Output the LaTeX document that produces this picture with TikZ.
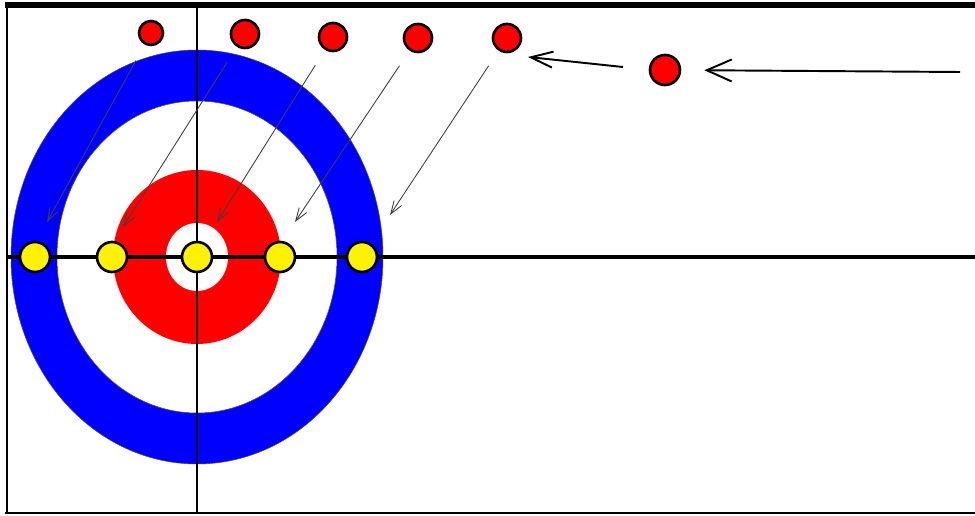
\documentclass[tikz,border=0pt]{standalone}
\usepackage{tikz}
\usetikzlibrary{arrows.meta}

\begin{document}
\begin{tikzpicture}[
  x=0.02cm, y=-0.02cm,
  stone/.style={draw, line width=1.5pt, circle, fill=red, minimum size=5.6mm, inner sep=0pt},
  spot/.style={draw, line width=1.5pt, circle, fill=yellow, minimum size=6mm, inner sep=0pt},
  shot/.style={-{Straight Barb[length=2.6mm, width=1.8mm]}, line width=0.5pt, black!75, shorten <=0.36cm},
  push/.style={-{Straight Barb[length=5mm, width=4.4mm]}, line width=1.1pt},
  rink/.style={line width=1pt}]
\useasboundingbox (0,0) rectangle (975,516);
% house
\fill[blue, draw=black!70, line width=0.3pt] (197,257) ellipse [x radius=186, y radius=207];
\fill[white, draw=black!70, line width=0.3pt] (197,257) ellipse [x radius=140, y radius=156];
\fill[red] (197,257) ellipse [x radius=84, y radius=87];
\fill[white] (197,257) ellipse [x radius=31, y radius=34];
% lines of the sheet
\draw[rink, line width=2pt] (8,257) -- (975,257);
\draw[rink] (197,5) -- (197,513);
\draw[rink] (7,5) -- (7,513);
\draw[rink, line width=1.6pt] (5,513) -- (975,513);
\draw[rink, line width=3pt] (5,5) -- (975,5);
% stones waiting
\node[stone, minimum size=4.8mm] (s1) at (151,33) {};
\node[stone] (s2) at (245,34) {};
\node[stone] (s3) at (333,37) {};
\node[stone] (s4) at (418,38) {};
\node[stone] (s5) at (507,38) {};
\node[stone, minimum size=6mm] (mv) at (665,70) {};
% positions on the tee line
\node[spot] (y1) at (35,257) {};
\node[spot] (y2) at (112,257) {};
\node[spot] (y3) at (197,257) {};
\node[spot] (y4) at (280,257) {};
\node[spot] (y5) at (362,257) {};
% where the shots end
\coordinate (t1) at (47,222);
\coordinate (t2) at (123,227);
\coordinate (t3) at (217,222);
\coordinate (t4) at (295,222);
\coordinate (t5) at (390,215);
\draw[shot] (s1) -- (t1);
\draw[shot] (s2) -- (t2);
\draw[shot] (s3) -- (t3);
\draw[shot] (s4) -- (t4);
\draw[shot] (s5) -- (t5);
% delivery
\coordinate (entry) at (960,72);
\coordinate (back) at (623,67);
\coordinate (front) at (528,57);
\draw[push, shorten >=0.46cm] (entry) -- (mv);
\draw[push, -{Straight Barb[length=4.4mm, width=3.2mm]}] (back) -- (front);
\end{tikzpicture}
\end{document}
